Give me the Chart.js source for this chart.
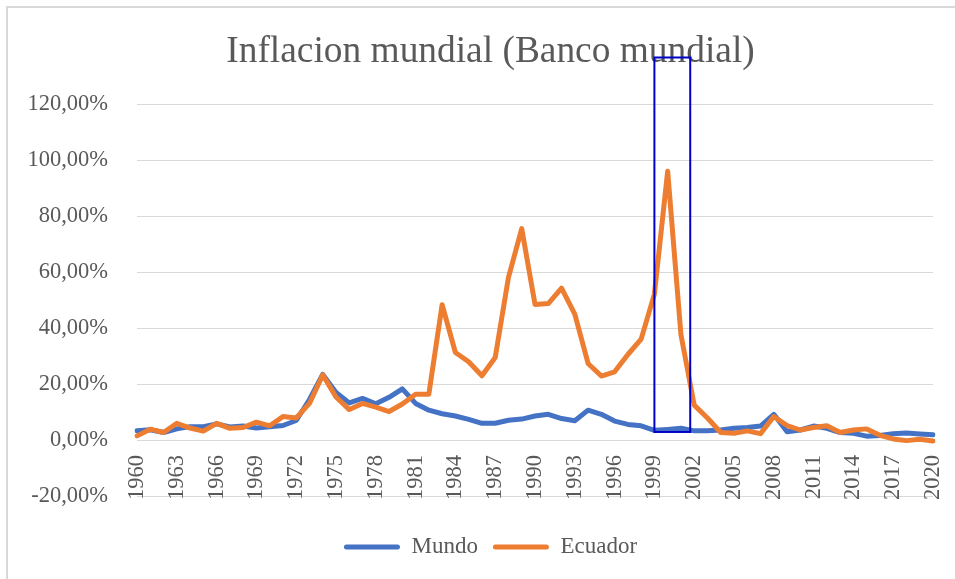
<!DOCTYPE html>
<html>
<head>
<meta charset="utf-8">
<script src="https://cdn.jsdelivr.net/npm/chart.js@4.4.1/dist/chart.umd.min.js"></script>
<style>
  body { margin: 0; background: #fff; }
  #wrap { position: relative; width: 955px; height: 579px; overflow: hidden; }
  #frame { position: absolute; left: 6px; top: 6px; width: 1000px; height: 1000px;
           border-top: 2px solid #d9d9d9; border-left: 2px solid #d9d9d9; }
  #inflChart { position: absolute; left: 0; top: 0; }
</style>
</head>
<body>
<div id="wrap">
  <div id="frame"></div>
  <canvas id="inflChart" width="955" height="579"></canvas>
</div>
<script>
// años (categorías)
const years = [1960, 1961, 1962, 1963, 1964, 1965, 1966, 1967, 1968, 1969,
  1970, 1971, 1972, 1973, 1974, 1975, 1976, 1977, 1978, 1979,
  1980, 1981, 1982, 1983, 1984, 1985, 1986, 1987, 1988, 1989,
  1990, 1991, 1992, 1993, 1994, 1995, 1996, 1997, 1998, 1999,
  2000, 2001, 2002, 2003, 2004, 2005, 2006, 2007, 2008, 2009,
  2010, 2011, 2012, 2013, 2014, 2015, 2016, 2017, 2018, 2019, 2020];

// años que llevan etiqueta en el eje
const shownYears = [1960, 1963, 1966, 1969, 1972, 1975, 1978, 1981, 1984, 1987, 1990,
  1993, 1996, 1999, 2002, 2005, 2008, 2011, 2014, 2017, 2020];

// inflación en %
const mundo = [3.3, 3.7, 2.7, 4.0, 4.8, 4.8, 5.8, 4.7, 5.0, 4.3,
  4.8, 5.2, 7.0, 14.5, 23.5, 17.0, 13.3, 14.9, 13.0, 15.3,
  18.3, 13.1, 10.7, 9.4, 8.6, 7.4, 6.0, 6.0, 7.1, 7.5,
  8.6, 9.2, 7.7, 6.9, 10.7, 9.2, 6.8, 5.6, 5.1, 3.5,
  3.8, 4.2, 3.3, 3.3, 3.6, 4.2, 4.5, 5.0, 9.2, 3.0,
  3.6, 5.0, 4.2, 2.7, 2.4, 1.4, 1.6, 2.3, 2.5, 2.2, 1.9];

const ecuador = [1.5, 3.9, 2.7, 6.0, 4.3, 3.2, 6.0, 4.2, 4.5, 6.4,
  5.1, 8.4, 7.9, 13.1, 23.3, 15.4, 10.9, 13.1, 11.8, 10.2,
  12.9, 16.4, 16.4, 48.4, 31.3, 28.0, 23.0, 29.5, 58.2, 75.6,
  48.5, 48.8, 54.3, 45.0, 27.4, 22.9, 24.4, 30.6, 36.1, 52.2,
  96.1, 37.7, 12.5, 7.9, 2.7, 2.4, 3.3, 2.3, 8.4, 5.2,
  3.6, 4.5, 5.1, 2.7, 3.6, 4.0, 1.7, 0.4, -0.2, 0.3, -0.3];

// eje y
const yMin = -20;
const yMax = 120;
const yStep = 20;

// recuadro azul (años y rango en %)
const highlightYears = [1999, 2001.7];
const highlightRange = [2.9, 136.8];

const serif = "'Liberation Serif', 'Times New Roman', serif";
const grey = '#595959';

const highlightBox = {
  id: 'highlightBox',
  beforeLayout(chart) {
    // alto fijo para la leyenda
    const lg = chart.legend;
    if (lg && !lg._fixedFit) {
      lg._fixedFit = true;
      lg.fit = function () {
        Object.getPrototypeOf(this).fit.call(this);
        this.height = 83;
      };
    }
  },
  afterDraw(chart) {
    const { ctx, scales } = chart;
    const x1 = scales.x.getPixelForValue(highlightYears[0] - years[0]);
    const x2 = scales.x.getPixelForValue(highlightYears[1] - years[0]);
    const y1 = scales.y.getPixelForValue(highlightRange[1]);
    const y2 = scales.y.getPixelForValue(highlightRange[0]);
    ctx.save();
    ctx.strokeStyle = '#0000c8';
    ctx.lineWidth = 2;
    ctx.strokeRect(x1, y1, x2 - x1, y2 - y1);
    ctx.restore();
  }
};

new Chart(document.getElementById('inflChart'), {
  type: 'line',
  data: {
    labels: years,
    datasets: [{
      label: 'Mundo',
      data: mundo,
      borderColor: '#4472c4',
      backgroundColor: '#4472c4',
      order: 1
    }, {
      label: 'Ecuador',
      data: ecuador,
      borderColor: '#ed7d31',
      backgroundColor: '#ed7d31',
      order: 0
    }]
  },
  options: {
    responsive: false,
    animation: false,
    elements: {
      line: { borderWidth: 5, tension: 0, borderJoinStyle: 'round', borderCapStyle: 'round' },
      point: { radius: 0, hoverRadius: 0 }
    },
    layout: { padding: { left: 26, right: 0, top: 0, bottom: 0 } },
    scales: {
      x: {
        position: { y: 0 },
        // las etiquetas giradas no reservan margen lateral
        afterFit(scale) { scale.paddingLeft = 0; scale.paddingRight = 0; },
        grid: { display: false, drawTicks: false },
        border: { display: false },
        ticks: {
          autoSkip: false,
          minRotation: 90,
          maxRotation: 90,
          padding: 15,
          color: grey,
          font: { family: serif, size: 22.5 },
          callback(value) {
            const lab = this.getLabelForValue(value);
            return shownYears.includes(lab) ? String(lab) : '';
          }
        }
      },
      y: {
        min: yMin,
        max: yMax,
        afterFit(scale) { scale.width = 111; },
        grid: { color: '#d9d9d9', drawTicks: false },
        border: { display: false },
        ticks: {
          stepSize: yStep,
          padding: 29,
          color: grey,
          font: { family: serif, size: 22.5 },
          callback: v => v.toFixed(2).replace('.', ',') + '%'
        }
      },
      // margen derecho vacío
      yr: {
        position: 'right',
        grid: { display: false, drawTicks: false },
        border: { display: false },
        ticks: { display: false },
        afterFit(scale) { scale.width = 22; }
      }
    },
    plugins: {
      title: {
        display: true,
        text: 'Inflacion mundial (Banco mundial)',
        color: grey,
        font: { family: serif, size: 37.4, weight: 'normal' },
        padding: { top: 30, bottom: 29.6 }
      },
      legend: {
        position: 'bottom',
        title: { display: true, text: '', font: { size: 10, lineHeight: 1 }, padding: { top: 14.5, bottom: 0 } },
        labels: {
          color: grey,
          font: { family: serif, size: 23 },
          boxWidth: 56,
          boxHeight: 5,
          padding: 15,
          useBorderRadius: true,
          borderRadius: 2.5,
          sort: (a, b) => a.datasetIndex - b.datasetIndex,
          generateLabels(chart) {
            return Chart.defaults.plugins.legend.labels.generateLabels(chart)
              .map(l => ({ ...l, lineWidth: 0 }));
          }
        }
      },
      tooltip: { enabled: false }
    }
  },
  plugins: [highlightBox]
});
</script>
</body>
</html>
